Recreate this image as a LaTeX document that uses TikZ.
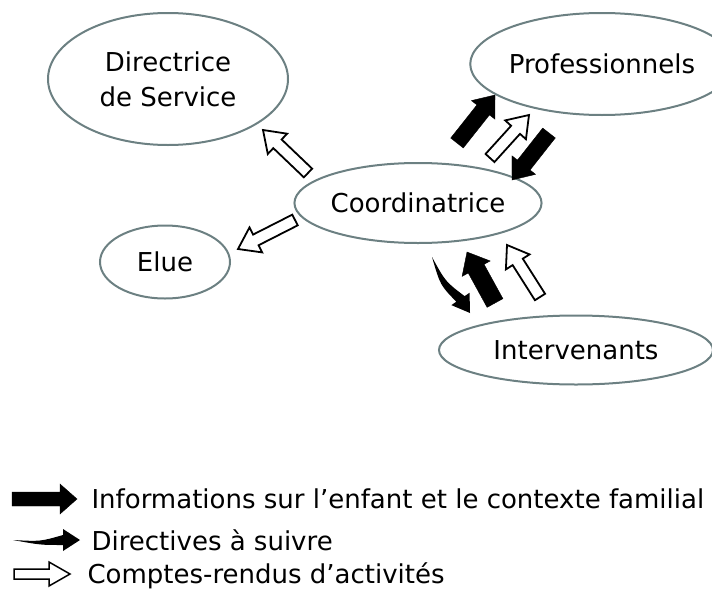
\documentclass[tikz,border=0pt]{standalone}
\usepackage{fontspec}
\setmainfont{DejaVu Sans}
\usetikzlibrary{calc,shapes.geometric}
\definecolor{grisbord}{RGB}{108,128,130}

\newcommand{\flechebloc}[6][]{%
	\coordinate (fb) at ($(#3)!#6pt!(#2)$);
	\draw[#1] ($(#2)!#4pt!90:(#3)$) -- ($(fb)!#4pt!90:(#3)$) -- ($(fb)!#5pt!90:(#3)$) -- (#3)
		-- ($(fb)!#5pt!-90:(#3)$) -- ($(fb)!#4pt!-90:(#3)$) -- ($(#2)!#4pt!-90:(#3)$) -- cycle;}
\newcommand{\flecheeffilee}[3]{%
	\coordinate (fb) at ($(#2)!17pt!(#1)$);
	\coordinate (fm) at ($(#1)!0.55!(fb)$);
	\fill (#1) .. controls ($(fm)!-#3pt*0.3!90:(fb)$) .. ($(fb)!5pt!90:(#2)$) -- ($(fb)!11pt!90:(#2)$) -- (#2)
		-- ($(fb)!11pt!-90:(#2)$) -- ($(fb)!5pt!-90:(#2)$) .. controls ($(fm)!-#3pt!90:(fb)$) .. (#1) -- cycle;}

\begin{document}
\begin{tikzpicture}[x=1pt,y=-1pt,
	bulle/.style={ellipse,draw=grisbord,line width=2pt,inner sep=0pt,align=center,font=\fontsize{26}{35}\selectfont},
	plein/.style={fill=black},
	creux/.style={draw=black,fill=white,line width=1.8pt,line join=miter},
	legende/.style={anchor=base west,font=\fontsize{26}{30}\selectfont}]
	\useasboundingbox (0,0) rectangle (712,597);
	
	\node[bulle,minimum width=240,minimum height=132] (dir) at (168,79) {Directrice\\de Service};
	\node[bulle,minimum width=206,minimum height=102] (pro) at (602,64) {Professionnels};
	\node[bulle,minimum width=229,minimum height=80] (coord) at (418,203) {Coordinatrice};
	\node[bulle,minimum width=130,minimum height=73] (elue) at (165,262) {Elue};
	\node[bulle,minimum width=274,minimum height=69] (int) at (576,350) {Intervenants};
	
	\coordinate (c1) at (308,173); \coordinate (d1) at (263,130);
	\coordinate (c2) at (295,220); \coordinate (e2) at (238,249);
	\coordinate (c3) at (457,143); \coordinate (p3) at (495,95);
	\coordinate (c4) at (490,158); \coordinate (p4) at (529,115);
	\coordinate (p5) at (549,133); \coordinate (c5) at (512,180);
	\coordinate (c6) at (432,257); \coordinate (i6) at (470,313);
	\coordinate (i7) at (495,303); \coordinate (c7) at (467,252);
	\coordinate (i8) at (540,297); \coordinate (c8) at (507,245);
	
	\foreach \a/\b in {c1/d1,c2/e2,c4/p4,i8/c8}{
		\flechebloc[creux]{\a}{\b}{6}{14}{20}}
	\foreach \a/\b/\w/\h in {c3/p3/8/15,p5/c5/8/15,i7/c7/9/16}{
		\flechebloc[plein]{\a}{\b}{\w}{\h}{19}}
	\flecheeffilee{c6}{i6}{9}
	
	\coordinate (l1a) at (12,499); \coordinate (l1b) at (77,499);
	\coordinate (l2a) at (13,540); \coordinate (l2b) at (80,540);
	\coordinate (l3a) at (14,574); \coordinate (l3b) at (70,574);
	\flechebloc[plein]{l1a}{l1b}{7}{15}{17}
	\flecheeffilee{l2a}{l2b}{5}
	\flechebloc[creux,line width=1.5pt]{l3a}{l3b}{5}{12}{21}
	
	\node[legende] (t1) at (88,508) {Informations sur l’enfant et le contexte familial};
	\node[legende] (t2) at (88,550) {Directives à suivre};
	\node[legende] (t3) at (84,583) {Comptes-rendus d’activités};
\end{tikzpicture}
\end{document}
